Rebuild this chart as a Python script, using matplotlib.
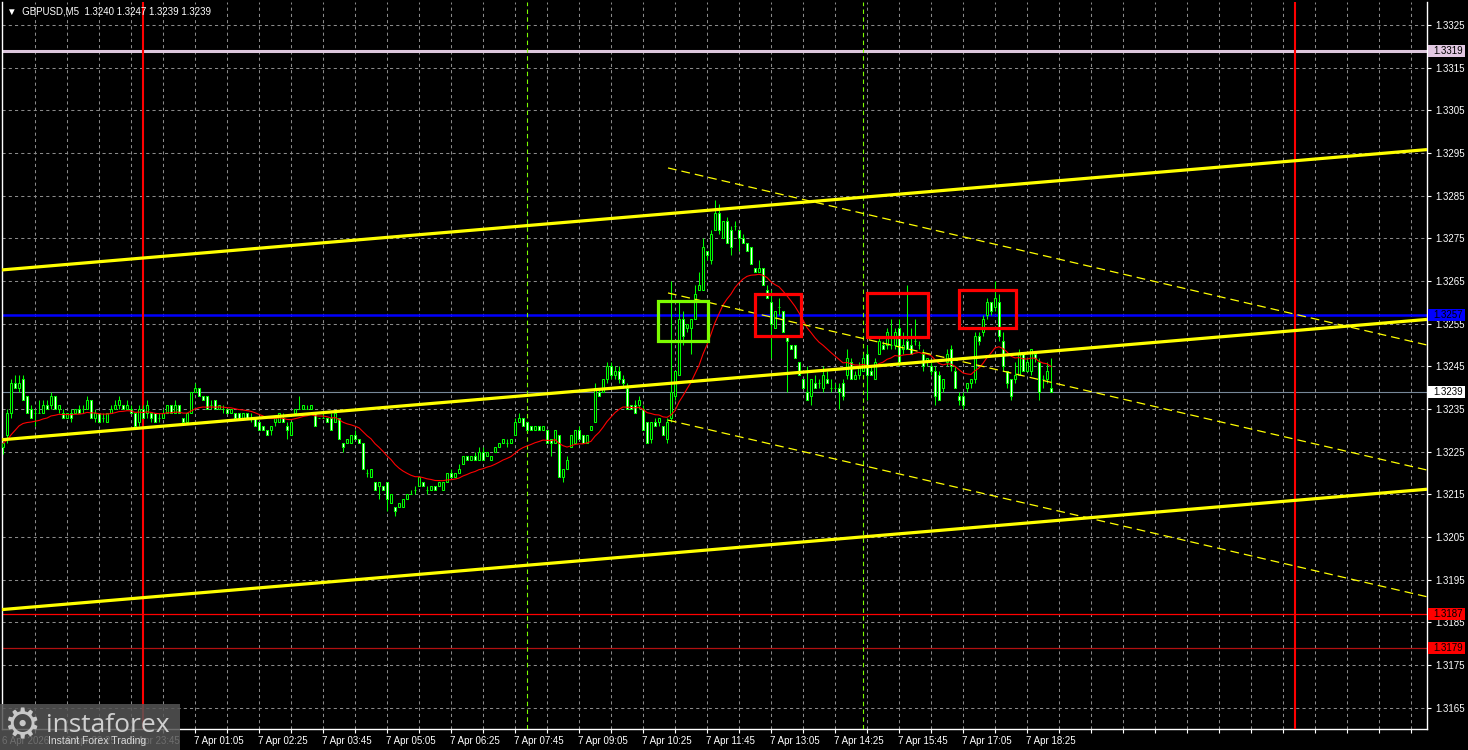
import numpy as np
import pandas as pd
import matplotlib
matplotlib.use("Agg")
import matplotlib.pyplot as plt
from matplotlib.patches import Rectangle
from matplotlib.transforms import blended_transform_factory

# =====================================================
# DATA  (GBPUSD M5, bar 0 = 7 Apr 00:00, first bar 6 Apr 21:05)
# =====================================================

first_bar = -35

opens = [
    1.3226, 1.3229, 1.3234, 1.3241, 1.3240, 1.3242, 1.3238, 1.3235, 1.3234, 1.3234,
    1.3234, 1.3236, 1.3236, 1.3238, 1.3235, 1.3234, 1.3233, 1.3234, 1.3234, 1.3235,
    1.3235, 1.3235, 1.3237, 1.3233, 1.3234, 1.3233, 1.3232, 1.3234, 1.3235, 1.3236,
    1.3236, 1.3235, 1.3235, 1.3234, 1.3232, 1.3235, 1.3234, 1.3234, 1.3234, 1.3233,
    1.3233, 1.3234, 1.3236, 1.3234, 1.3236, 1.3233, 1.3232, 1.3234, 1.3239, 1.3240,
    1.3238, 1.3238, 1.3236, 1.3237, 1.3235, 1.3235, 1.3235, 1.3234, 1.3234, 1.3234,
    1.3233, 1.3234, 1.3233, 1.3233, 1.3232, 1.3231, 1.3230, 1.3230, 1.3232, 1.3232,
    1.3233, 1.3231, 1.3229, 1.3234, 1.3235, 1.3235, 1.3235, 1.3235, 1.3234, 1.3233,
    1.3233, 1.3233, 1.3233, 1.3232, 1.3233, 1.3227, 1.3227, 1.3227, 1.3229, 1.3228,
    1.3227, 1.3220, 1.3219, 1.3218, 1.3217, 1.3217, 1.3218, 1.3213, 1.3212, 1.3212,
    1.3212, 1.3214, 1.3215, 1.3216, 1.3217, 1.3218, 1.3216, 1.3216, 1.3217, 1.3217,
    1.3216, 1.3218, 1.3220, 1.3219, 1.3220, 1.3222, 1.3224, 1.3223, 1.3224, 1.3223,
    1.3225, 1.3224, 1.3223, 1.3225, 1.3226, 1.3227, 1.3227, 1.3227, 1.3229, 1.3232,
    1.3233, 1.3232, 1.3231, 1.3230, 1.3231, 1.3230, 1.3230, 1.3228, 1.3227, 1.3229,
    1.3219, 1.3221, 1.3226, 1.3227, 1.3230, 1.3229, 1.3227, 1.3230, 1.3232, 1.3239,
    1.3239, 1.3242, 1.3245, 1.3243, 1.3244, 1.3242, 1.3240, 1.3236, 1.3236, 1.3236,
    1.3235, 1.3232, 1.3228, 1.3232, 1.3232, 1.3231, 1.3228, 1.3233, 1.3238, 1.3243,
    1.3256, 1.3254, 1.3254, 1.3256, 1.3263, 1.3263, 1.3272, 1.3270, 1.3277, 1.3281,
    1.3275, 1.3279, 1.3277, 1.3278, 1.3277, 1.3275, 1.3274, 1.3273, 1.3268, 1.3267,
    1.3268, 1.3263, 1.3260, 1.3254, 1.3259, 1.3258, 1.3252, 1.3250, 1.3250, 1.3246,
    1.3242, 1.3239, 1.3238, 1.3241, 1.3241, 1.3240, 1.3242, 1.3240, 1.3240, 1.3240,
    1.3241, 1.3243, 1.3246, 1.3242, 1.3243, 1.3244, 1.3248, 1.3244, 1.3242, 1.3248,
    1.3250, 1.3250, 1.3250, 1.3250, 1.3254, 1.3249, 1.3251, 1.3250, 1.3251, 1.3250,
    1.3248, 1.3246, 1.3245, 1.3244, 1.3243, 1.3240, 1.3246, 1.3249, 1.3244, 1.3238,
    1.3238, 1.3240, 1.3241, 1.3242, 1.3252, 1.3253, 1.3257, 1.3260, 1.3259, 1.3260,
    1.3251, 1.3244, 1.3242, 1.3242, 1.3243, 1.3248, 1.3244, 1.3244, 1.3248, 1.3246,
    1.3242, 1.3242, 1.3240,
]

highs = [
    1.32275, 1.3235, 1.3242, 1.3243, 1.3243, 1.3243, 1.3238, 1.3236, 1.3235, 1.3237,
    1.3237, 1.3237, 1.3239, 1.3238, 1.3236, 1.3235, 1.3234, 1.3235, 1.3235, 1.3236,
    1.3236, 1.3238, 1.3237, 1.3235, 1.3234, 1.3234, 1.3234, 1.3236, 1.3237, 1.3238,
    1.3236, 1.3237, 1.3236, 1.3234, 1.3236, 1.3236, 1.3237, 1.3234, 1.3234, 1.3234,
    1.3235, 1.3236, 1.3236, 1.3237, 1.3236, 1.3233, 1.3234, 1.3239, 1.3241, 1.3240,
    1.3238, 1.3238, 1.3237, 1.3237, 1.3236, 1.3236, 1.3235, 1.3235, 1.3234, 1.3234,
    1.3234, 1.3234, 1.3234, 1.3233, 1.3232, 1.3231, 1.3230, 1.3231, 1.3233, 1.3234,
    1.3234, 1.3232, 1.3232, 1.3235, 1.3238, 1.3236, 1.3236, 1.3236, 1.3234, 1.3233,
    1.3234, 1.3233, 1.3234, 1.3234, 1.3233, 1.3227, 1.3228, 1.3229, 1.3230, 1.3228,
    1.3227, 1.3221, 1.3221, 1.3218, 1.3218, 1.3217, 1.3218, 1.3215, 1.3212, 1.3213,
    1.3214, 1.3215, 1.3216, 1.3217, 1.3219, 1.3218, 1.3217, 1.3217, 1.3217, 1.3218,
    1.3218, 1.3220, 1.3221, 1.3220, 1.3222, 1.3224, 1.3224, 1.3224, 1.3225, 1.3226,
    1.3226, 1.3225, 1.3224, 1.3226, 1.3227, 1.3228, 1.3228, 1.3228, 1.3233, 1.3234,
    1.3233, 1.3232, 1.3231, 1.3231, 1.3231, 1.3231, 1.3230, 1.3228, 1.3230, 1.3229,
    1.3221, 1.3224, 1.3229, 1.3230, 1.3231, 1.3229, 1.3229, 1.3231, 1.3241, 1.3240,
    1.3242, 1.3246, 1.3246, 1.3245, 1.3245, 1.3243, 1.3241, 1.3236, 1.3237, 1.3238,
    1.3236, 1.3232, 1.3232, 1.3233, 1.3233, 1.3231, 1.3233, 1.3265, 1.3244, 1.3260,
    1.3258, 1.3255, 1.3256, 1.3264, 1.3267, 1.3275, 1.3272, 1.3277, 1.3284, 1.3283,
    1.3279, 1.3280, 1.3278, 1.3279, 1.3277, 1.3276, 1.3274, 1.3273, 1.3268, 1.3270,
    1.3268, 1.3264, 1.3263, 1.3258, 1.3261, 1.3258, 1.3252, 1.3250, 1.3250, 1.3246,
    1.3242, 1.3245, 1.3242, 1.3243, 1.3242, 1.3245, 1.3244, 1.3242, 1.3241, 1.3241,
    1.3242, 1.3249, 1.3247, 1.3244, 1.3246, 1.3248, 1.3250, 1.3245, 1.3247, 1.3252,
    1.3251, 1.3254, 1.3256, 1.3254, 1.3256, 1.3253, 1.3264, 1.3254, 1.3256, 1.3251,
    1.3249, 1.3247, 1.3246, 1.3245, 1.3244, 1.3242, 1.3249, 1.3250, 1.3245, 1.3239,
    1.3239, 1.3241, 1.3242, 1.3253, 1.3253, 1.3257, 1.3261, 1.3260, 1.3265, 1.3262,
    1.3253, 1.3244, 1.3242, 1.3246, 1.3249, 1.3248, 1.3247, 1.3249, 1.3248, 1.3247,
    1.3243, 1.3246, 1.3247,
]

lows = [
    1.32245, 1.3227, 1.3233, 1.3240, 1.3239, 1.3237, 1.3234, 1.3233, 1.3231, 1.3234,
    1.3234, 1.3235, 1.3235, 1.3235, 1.3234, 1.3233, 1.3233, 1.3232, 1.3234, 1.3234,
    1.3234, 1.3235, 1.3233, 1.3232, 1.3232, 1.3232, 1.3232, 1.3234, 1.3235, 1.3235,
    1.3235, 1.3235, 1.3234, 1.3231, 1.3231, 1.3233, 1.3233, 1.3232, 1.3232, 1.3232,
    1.3233, 1.3234, 1.3234, 1.3234, 1.3234, 1.3232, 1.3232, 1.3234, 1.3239, 1.3238,
    1.3237, 1.3235, 1.3235, 1.3235, 1.3235, 1.3234, 1.3234, 1.3234, 1.3233, 1.3233,
    1.3233, 1.3233, 1.3232, 1.3231, 1.3230, 1.3230, 1.3229, 1.3229, 1.3231, 1.3232,
    1.3232, 1.3228, 1.3229, 1.3234, 1.3235, 1.3235, 1.3235, 1.3235, 1.3231, 1.3233,
    1.3233, 1.3232, 1.3230, 1.3232, 1.3228, 1.3225, 1.3227, 1.3227, 1.3228, 1.3227,
    1.3221, 1.3219, 1.3219, 1.3216, 1.3214, 1.3216, 1.3211, 1.3213, 1.3210, 1.3212,
    1.3212, 1.3214, 1.3215, 1.3215, 1.3217, 1.3217, 1.3215, 1.3216, 1.3216, 1.3217,
    1.3216, 1.3218, 1.3219, 1.3219, 1.3220, 1.3222, 1.3223, 1.3223, 1.3223, 1.3223,
    1.3223, 1.3224, 1.3223, 1.3225, 1.3226, 1.3227, 1.3226, 1.3227, 1.3229, 1.3232,
    1.3231, 1.3230, 1.3230, 1.3230, 1.3230, 1.3230, 1.3227, 1.3224, 1.3227, 1.3219,
    1.3218, 1.3221, 1.3226, 1.3227, 1.3228, 1.3227, 1.3227, 1.3230, 1.3232, 1.3238,
    1.3239, 1.3241, 1.3242, 1.3242, 1.3241, 1.3240, 1.3235, 1.3235, 1.3234, 1.3235,
    1.3230, 1.3227, 1.3227, 1.3231, 1.3231, 1.3229, 1.3227, 1.3232, 1.3237, 1.3243,
    1.3250, 1.3253, 1.3248, 1.3256, 1.3263, 1.3263, 1.3270, 1.3269, 1.3277, 1.3276,
    1.3275, 1.3274, 1.3271, 1.3277, 1.3272, 1.3274, 1.3272, 1.3269, 1.3267, 1.3267,
    1.3264, 1.3261, 1.3247, 1.3254, 1.3257, 1.3253, 1.3239, 1.3249, 1.3247, 1.3243,
    1.3240, 1.3237, 1.3236, 1.3240, 1.3240, 1.3239, 1.3241, 1.3239, 1.3240, 1.3235,
    1.3237, 1.3242, 1.3242, 1.3242, 1.3242, 1.3244, 1.3237, 1.3243, 1.3242, 1.3248,
    1.3249, 1.3249, 1.3249, 1.3249, 1.3245, 1.3248, 1.3249, 1.3248, 1.3250, 1.3249,
    1.3244, 1.3245, 1.3243, 1.3236, 1.3237, 1.3239, 1.3245, 1.3244, 1.3240, 1.3236,
    1.3235, 1.3239, 1.3240, 1.3241, 1.3250, 1.3252, 1.3256, 1.3257, 1.3258, 1.3251,
    1.3244, 1.3240, 1.3237, 1.3241, 1.3243, 1.3244, 1.3244, 1.3243, 1.3246, 1.3237,
    1.3240, 1.3241, 1.3239,
]

closes = [
    1.3227, 1.3234, 1.3241, 1.3240, 1.3241, 1.3237, 1.3234, 1.3233, 1.3234, 1.3234,
    1.3236, 1.3235, 1.3238, 1.3235, 1.3236, 1.3233, 1.3234, 1.3233, 1.3235, 1.3234,
    1.3235, 1.3237, 1.3233, 1.3234, 1.3232, 1.3233, 1.3234, 1.3235, 1.3236, 1.3237,
    1.3235, 1.3236, 1.3234, 1.3231, 1.3235, 1.3233, 1.3236, 1.3233, 1.3232, 1.3233,
    1.3234, 1.3236, 1.3234, 1.3236, 1.3234, 1.3232, 1.3234, 1.3239, 1.3240, 1.3238,
    1.3237, 1.3235, 1.3236, 1.3235, 1.3236, 1.3235, 1.3234, 1.3235, 1.3233, 1.3233,
    1.3234, 1.3233, 1.3233, 1.3231, 1.3230, 1.3230, 1.3229, 1.3231, 1.3233, 1.3234,
    1.3232, 1.3230, 1.3232, 1.3235, 1.3235, 1.3236, 1.3235, 1.3236, 1.3231, 1.3233,
    1.3233, 1.3232, 1.3230, 1.3234, 1.3228, 1.3226, 1.3228, 1.3229, 1.3228, 1.3227,
    1.3221, 1.3220, 1.3221, 1.3216, 1.3218, 1.3216, 1.3214, 1.3215, 1.3211, 1.3213,
    1.3214, 1.3215, 1.3215, 1.3216, 1.3219, 1.3217, 1.3216, 1.3217, 1.3216, 1.3218,
    1.3218, 1.3220, 1.3219, 1.3220, 1.3221, 1.3224, 1.3223, 1.3224, 1.3223, 1.3225,
    1.3223, 1.3225, 1.3224, 1.3226, 1.3227, 1.3228, 1.3227, 1.3228, 1.3232, 1.3233,
    1.3231, 1.3230, 1.3230, 1.3231, 1.3230, 1.3231, 1.3227, 1.3227, 1.3230, 1.3219,
    1.3221, 1.3223, 1.3229, 1.3230, 1.3228, 1.3227, 1.3229, 1.3231, 1.3240, 1.3238,
    1.3242, 1.3245, 1.3243, 1.3244, 1.3242, 1.3241, 1.3235, 1.3235, 1.3234, 1.3237,
    1.3230, 1.3227, 1.3232, 1.3231, 1.3233, 1.3229, 1.3232, 1.3239, 1.3244, 1.3256,
    1.3252, 1.3255, 1.3256, 1.3262, 1.3264, 1.3273, 1.3271, 1.3276, 1.3281, 1.3277,
    1.3279, 1.3274, 1.3273, 1.3278, 1.3275, 1.3274, 1.3272, 1.3269, 1.3267, 1.3268,
    1.3264, 1.3261, 1.3255, 1.3258, 1.3259, 1.3253, 1.3251, 1.3249, 1.3247, 1.3243,
    1.3240, 1.3237, 1.3242, 1.3240, 1.3241, 1.3243, 1.3241, 1.3240, 1.3240, 1.3239,
    1.3238, 1.3247, 1.3242, 1.3243, 1.3245, 1.3247, 1.3243, 1.3243, 1.3246, 1.3251,
    1.3249, 1.3253, 1.3250, 1.3253, 1.3246, 1.3250, 1.3249, 1.3248, 1.3251, 1.3250,
    1.3245, 1.3247, 1.3244, 1.3238, 1.3237, 1.3242, 1.3248, 1.3245, 1.3240, 1.3237,
    1.3236, 1.3241, 1.3242, 1.3252, 1.3251, 1.3256, 1.3260, 1.3258, 1.3261, 1.3252,
    1.3245, 1.3241, 1.3238, 1.3243, 1.3248, 1.3244, 1.3246, 1.3249, 1.3247, 1.3239,
    1.3242, 1.3244, 1.3239,
]

# horizontal levels
level_prices = [1.3319, 1.3257, 1.3239, 1.3187, 1.3179]
level_colors = ["#DCC6DC", "#0000FF", "#778899", "#FF0000", "#B01010"]
level_widths = [2.2, 1.8, 0.8, 0.9, 0.9]
level_box = ["#E2C8E2", "#0000FF", "#FFFFFF", "#FF0000", "#FF0000"]

# rising channel (thick yellow)
channel_bars = [-35.25, 321.0]
channel_upper = [1.32676, 1.32958]
channel_middle = [1.32278, 1.32560]
channel_lower = [1.31880, 1.32162]

# falling channel (thin dashed yellow)
trend_bars = [131.25, 321.0]
trend_upper = [1.32915, 1.32500]
trend_middle = [1.32622, 1.32207]
trend_lower = [1.32324, 1.31910]

# signal boxes
box_left = [128.8, 153.0, 180.9, 204.0]
box_right = [141.3, 164.4, 196.2, 218.2]
box_low = [1.32510, 1.32522, 1.32518, 1.32541]
box_high = [1.32604, 1.32620, 1.32621, 1.32629]
box_color = ["#7CFC00", "#FF0000", "#FF0000", "#FF0000"]

day_breaks = [0, 288]        # 7 Apr 00:00, 8 Apr 00:00
session_marks = [96, 180]    # 08:00, 15:00

time_labels = ["6 Apr 2026", "6 Apr 22:25", "6 Apr 23:45",
               "7 Apr 01:05", "7 Apr 02:25", "7 Apr 03:45", "7 Apr 05:05",
               "7 Apr 06:25", "7 Apr 07:45", "7 Apr 09:05", "7 Apr 10:25",
               "7 Apr 11:45", "7 Apr 13:05", "7 Apr 14:25", "7 Apr 15:45",
               "7 Apr 17:05", "7 Apr 18:25"]

title_text = "GBPUSD,M5  1.3240 1.3247 1.3239 1.3239"

# =====================================================
# PREP
# =====================================================

o = np.array(opens)
h = np.array(highs)
l = np.array(lows)
c = np.array(closes)
bars = np.arange(first_bar, first_bar + len(c))
ma = pd.Series(c).ewm(span=20, adjust=False).mean()
label_bars = first_bar + 16 * np.arange(len(time_labels))

FONT = ["Liberation Sans", "DejaVu Sans"]
plt.rcParams["font.family"] = FONT

W, H = 1468, 750
fig = plt.figure(figsize=(W / 100, H / 100), dpi=100, facecolor="black")
ax = fig.add_axes([2 / W, 21 / H, 1425 / W, 727 / H])
ax.set_facecolor("black")

ax.set_xlim(-35.25, 321)
ax.set_ylim(1.316001, 1.333039)

# =====================================================
# GRID + AXES
# =====================================================

ax.set_yticks(np.round(np.arange(1.3165, 1.33255, 0.001), 4))
ax.yaxis.set_major_formatter(lambda v, p: f"{v:.4f}")
ax.set_xticks(np.arange(-27, 321, 8))
ax.grid(True, color="#8a8a8a", linestyle=(0, (3, 3)), linewidth=0.75, zorder=0)
ax.set_axisbelow(True)

ax.tick_params(axis="x", length=3, color="white", labelbottom=False)
ax.tick_params(axis="y", left=False, right=True, labelleft=False,
               labelright=True, length=3, color="white",
               labelcolor="white", labelsize=7, pad=3)

for s in ["left", "right", "bottom"]:
    ax.spines[s].set_color("white")
    ax.spines[s].set_linewidth(1)
ax.spines["top"].set_visible(False)

# =====================================================
# CANDLES
# =====================================================

up = c >= o
ax.vlines(bars, l, h, color="#00FF00", linewidth=0.75, zorder=3)
ax.bar(bars, np.abs(c - o), bottom=np.minimum(o, c), width=0.55,
       color=np.where(up, "black", "white"), edgecolor="#00FF00",
       linewidth=0.75, zorder=3.1)

# moving average
ax.plot(bars, ma, color="#FF0000", linewidth=0.8, zorder=4)

# =====================================================
# OBJECTS
# =====================================================

for p, col, lw in zip(level_prices, level_colors, level_widths):
    ax.axhline(p, color=col, linewidth=lw, zorder=2.5)

for b in day_breaks:
    ax.axvline(b, color="#FF0000", linewidth=1.5, zorder=2.6)
for b in session_marks:
    ax.axvline(b, color="#7CFC00", linewidth=0.8,
               linestyle=(0, (4, 3)), zorder=2.6)

for ys in [channel_upper, channel_middle, channel_lower]:
    ax.plot(channel_bars, ys, color="#FFFF00", linewidth=2.3,
            solid_capstyle="butt", zorder=4.2)

for ys in [trend_upper, trend_middle, trend_lower]:
    ax.plot(trend_bars, ys, color="#FFFF00", linewidth=0.9,
            linestyle=(0, (7, 4)), zorder=4.1)

for x0, x1, y0, y1, col in zip(box_left, box_right, box_low, box_high, box_color):
    ax.add_patch(Rectangle((x0, y0), x1 - x0, y1 - y0, fill=False,
                           edgecolor=col, linewidth=2.3, zorder=5))

# price tags on the right scale
ytr = ax.get_yaxis_transform()
for p, col in zip(level_prices, level_box):
    ax.add_patch(Rectangle((1.0007, p - 0.00014), 0.026, 0.00028,
                           transform=ytr, facecolor=col, edgecolor="none",
                           clip_on=False, zorder=6))
    ax.text(1.0043, p, f"{p:.4f}", transform=ytr, ha="left", va="center",
            fontsize=7, color="black", clip_on=False, zorder=7)

# time labels
xtr = blended_transform_factory(ax.transData, ax.transAxes)
for b, t in zip(label_bars, time_labels):
    ax.text(b - 0.2, -0.009, t, transform=xtr, ha="left", va="top",
            fontsize=7, color="white", clip_on=False)

# title
fig.text(7 / W, 1 - 11 / H, "\u25BC  " + title_text, ha="left", va="center",
         fontsize=7, color="white")

# =====================================================
# LOGO
# =====================================================

fig.add_artist(Rectangle((0, 0), 180 / W, 46 / H, transform=fig.transFigure,
                         facecolor="#555555", alpha=0.85, edgecolor="none"))
fig.text(22 / W, 24 / H, "\u2699", ha="center", va="center", fontsize=30,
         color="#c8c8c8", family=["DejaVu Sans"])
fig.text(46 / W, 25 / H, "instaforex", ha="left", va="center", fontsize=19,
         color="#d0d0d0", family=["Open Sans", "DejaVu Sans"])
fig.text(48 / W, 9 / H, "Instant Forex Trading", ha="left", va="center",
         fontsize=7.5, color="#d8d8d8")

fig.savefig("out.png", dpi=100, facecolor="black")
